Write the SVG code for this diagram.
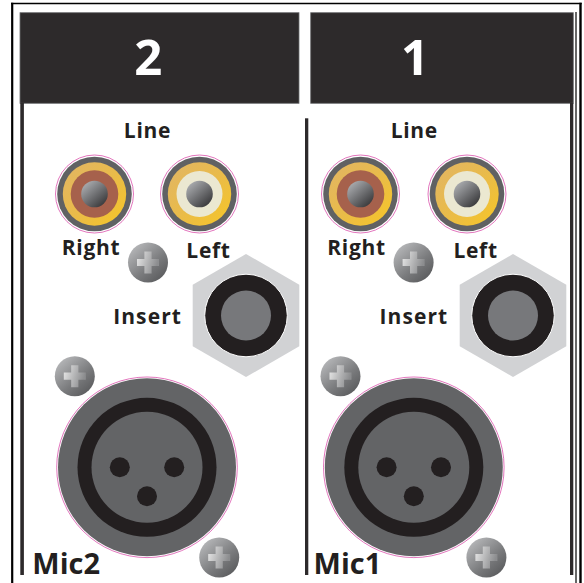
<svg xmlns="http://www.w3.org/2000/svg" xmlns:xlink="http://www.w3.org/1999/xlink" width="584" height="583" viewBox="0 0 584 583">
<style>
.lbl{font-family:"Open Sans","Liberation Sans",sans-serif;font-weight:700;fill:#231f20;font-size:21px;letter-spacing:0.7px}
.big{font-family:"Open Sans","Liberation Sans",sans-serif;font-weight:700;fill:#ffffff;font-size:49px;text-anchor:middle}
.mic{font-family:"Open Sans","Liberation Sans",sans-serif;font-weight:700;fill:#231f20;font-size:29px}
.hdr{fill:#2d2a2b;stroke:#6d6e71;stroke-width:0.8}
.pline{fill:#2d2a2b}
.pink{fill:#ffffff;stroke:#d63ba0;stroke-width:0.7}
</style>
<defs>
<linearGradient id="gOr" x1="0" y1="0" x2="1" y2="1">
<stop offset="0" stop-color="#e1b566"/><stop offset="0.5" stop-color="#e9bb4a"/><stop offset="1" stop-color="#f7c625"/>
</linearGradient>
<linearGradient id="gBall" x1="0.15" y1="0.1" x2="0.85" y2="0.9">
<stop offset="0" stop-color="#a9abae"/><stop offset="1" stop-color="#3a3a3c"/>
</linearGradient>
<linearGradient id="gScrew" x1="0.15" y1="0.1" x2="0.85" y2="0.9">
<stop offset="0" stop-color="#b4b5b7"/><stop offset="0.6" stop-color="#7a7b7d"/><stop offset="1" stop-color="#5c5d5f"/>
</linearGradient>
<linearGradient id="gPlus" x1="0" y1="0" x2="1" y2="0.3">
<stop offset="0" stop-color="#eaeaea"/><stop offset="1" stop-color="#8c8d8f"/>
</linearGradient>
<g id="rcaRed">
<circle r="39" class="pink"/>
<circle r="37.3" fill="#606163"/>
<circle r="31.7" fill="url(#gOr)"/>
<circle r="23.8" fill="#a6614c"/>
<circle r="13.3" fill="url(#gBall)"/>
</g>
<g id="rcaWhite">
<circle r="39" class="pink"/>
<circle r="37.3" fill="#606163"/>
<circle r="31.7" fill="url(#gOr)"/>
<circle r="23" fill="#ebe8d1"/>
<circle r="13.3" fill="url(#gBall)"/>
</g>
<g id="screw">
<circle r="20" fill="url(#gScrew)"/>
<path d="M-11,-3.6 H-3.6 V-11 H3.6 V-3.6 H11 V3.6 H3.6 V11 H-3.6 V3.6 H-11 Z" fill="url(#gPlus)"/>
</g>
<g id="jack">
<polygon points="0,-61.5 53.3,-30.75 53.3,30.75 0,61.5 -53.3,30.75 -53.3,-30.75" fill="#d1d2d4"/>
<circle r="41.3" fill="#231f20" stroke="#ffffff" stroke-width="1"/>
<circle r="25" fill="#77787b"/>
</g>
<g id="xlr">
<circle r="90.3" class="pink"/>
<circle r="89" fill="#636466"/>
<circle r="69.5" fill="#231f20"/>
<circle r="55.5" fill="#636466"/>
<circle cx="-27.2" cy="0" r="10" fill="#231f20"/>
<circle cx="27.2" cy="0" r="10" fill="#231f20"/>
<circle cx="0" cy="29" r="10" fill="#231f20"/>
</g>
</defs>
<rect width="584" height="583" fill="#ffffff"/>
<g id="frame">
<line x1="11" y1="3.5" x2="581.7" y2="3.5" stroke="#000" stroke-width="1.7"/>
<line x1="12.2" y1="2.7" x2="12.2" y2="583" stroke="#000" stroke-width="2.2"/>
<line x1="580.5" y1="2.7" x2="580.5" y2="583" stroke="#000" stroke-width="2.4"/>
<line x1="576" y1="12" x2="576" y2="583" stroke="#000" stroke-width="1.2"/>
</g>
<g id="panel2">
<rect class="hdr" x="20" y="12.7" width="279" height="90.6"/>
<text class="big" x="148.3" y="75">2</text>
<rect class="pline" x="20.3" y="103" width="3.6" height="472"/>
</g>
<g id="panel1">
<rect class="hdr" x="310.7" y="12.7" width="262.6" height="90.6"/>
<text class="big" x="415" y="75">1</text>
<rect class="pline" x="305" y="118.3" width="3.3" height="456.7"/>
<rect class="pline" x="570" y="103" width="3.3" height="472"/>
</g>
<g id="line2">
<text class="lbl" x="147.5" y="138" text-anchor="middle">Line</text>
<use xlink:href="#rcaRed" x="94.5" y="194"/>
<use xlink:href="#rcaWhite" x="199.5" y="194"/>
<text class="lbl" x="91" y="255" text-anchor="middle">Right</text>
<text class="lbl" x="208.5" y="257.5" text-anchor="middle">Left</text>
</g>
<g id="insert2">
<use xlink:href="#jack" x="246" y="315.5"/>
<text class="lbl" x="182" y="323.5" text-anchor="end" style="letter-spacing:1.1px">Insert</text>
</g>
<g id="mic2">
<use xlink:href="#xlr" x="147" y="467.3"/>
<text class="mic" x="32.3" y="574">Mic2</text>
</g>
<g id="screws2">
<use xlink:href="#screw" x="148" y="262.5"/>
<use xlink:href="#screw" x="74.8" y="376.2"/>
<use xlink:href="#screw" x="219.2" y="557.5"/>
</g>
<g id="line1">
<text class="lbl" x="414.3" y="138" text-anchor="middle">Line</text>
<use xlink:href="#rcaRed" x="360.5" y="194"/>
<use xlink:href="#rcaWhite" x="467" y="194"/>
<text class="lbl" x="356.5" y="255" text-anchor="middle">Right</text>
<text class="lbl" x="475.6" y="257.5" text-anchor="middle">Left</text>
</g>
<g id="insert1">
<use xlink:href="#jack" x="513" y="315.5"/>
<text class="lbl" x="448.3" y="323.5" text-anchor="end" style="letter-spacing:1.1px">Insert</text>
</g>
<g id="mic1">
<use xlink:href="#xlr" x="413.8" y="467.3"/>
<text class="mic" x="313.6" y="574">Mic1</text>
</g>
<g id="screws1">
<use xlink:href="#screw" x="413.6" y="262.5"/>
<use xlink:href="#screw" x="340.5" y="376.2"/>
<use xlink:href="#screw" x="486.4" y="557.5"/>
</g>
</svg>
